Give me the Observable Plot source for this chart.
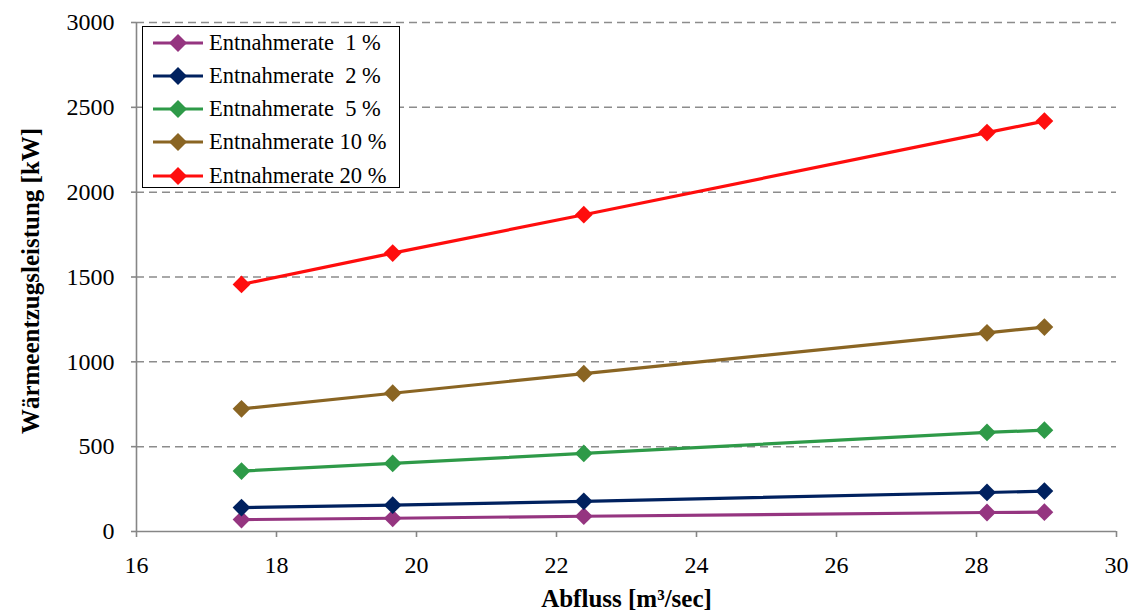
<!DOCTYPE html>
<html>
<head>
<meta charset="utf-8">
<script src="https://cdn.jsdelivr.net/npm/d3@7"></script>
<script src="https://cdn.jsdelivr.net/npm/@observablehq/plot@0.6"></script>
<style>
  html, body { margin: 0; padding: 0; background: #fff; }
  #wrap { position: relative; width: 1140px; height: 615px; }
  #wrap svg text { font-family: "Liberation Serif", "Times New Roman", serif; }
  #legend {
    position: absolute; left: 142px; top: 26px; width: 256px; height: 160px;
    border: 1.5px solid #000; background: #fff;
    font-family: "Liberation Serif", "Times New Roman", serif; font-size: 22.5px; color: #000;
  }
  .row { position: absolute; left: 0; height: 30px; display: flex; align-items: center; }
  .row span { white-space: pre; margin-left: 2px; }
</style>
</head>
<body>
<div id="wrap"></div>
<script>
// ---- data ----
const flow = [17.5, 19.66, 22.39, 28.15, 28.97];            // Abfluss [m³/sec]
const rate1  = [70, 78, 90, 112, 114];
const rate2  = [141, 155, 178, 230, 238];
const rate5  = [356, 401, 460, 584, 597];
const rate10 = [723, 815, 930, 1171, 1205];
const rate20 = [1456, 1641, 1867, 2351, 2419];
const seriesNames = ["Entnahmerate  1 %", "Entnahmerate  2 %", "Entnahmerate  5 %", "Entnahmerate 10 %", "Entnahmerate 20 %"];
const seriesColors = ["#953580", "#00215F", "#2E9A48", "#8A6523", "#FF0D0D"];
const xTicks = [16, 18, 20, 22, 24, 26, 28, 30];
const yTicks = [0, 500, 1000, 1500, 2000, 2500, 3000];
const xTitle = "Abfluss [m³/sec]";
const yTitle = "Wärmeentzugsleistung [kW]";

const allSeries = [rate1, rate2, rate5, rate10, rate20];
const rows = [];
allSeries.forEach((vals, i) => vals.forEach((v, j) => rows.push({series: seriesNames[i], x: flow[j], y: v})));

const axisColor = "#868686";
const seriesMarks = [];
seriesNames.forEach((name, i) => {
  const d = rows.filter(r => r.series === name);
  seriesMarks.push(Plot.line(d, {x: "x", y: "y", stroke: seriesColors[i], strokeWidth: 3.2}));
  seriesMarks.push(Plot.dot(d, {x: "x", y: "y", fill: seriesColors[i], symbol: "diamond2", r: 8, stroke: "none"}));
});

const chart = Plot.plot({
  width: 1140,
  height: 615,
  marginLeft: 136,
  marginRight: 24,
  marginTop: 22,
  marginBottom: 84,
  style: {fontFamily: "Liberation Serif, Times New Roman, serif", fontSize: "24px", color: "#000", background: "#fff", overflow: "visible"},
  x: {domain: [16, 30], label: null},
  y: {domain: [0, 3000], label: null},
  marks: [
    Plot.gridY(yTicks.filter(t => t > 0), {stroke: "#8c8c8c", strokeOpacity: 1, strokeWidth: 1.5, strokeDasharray: "8,5"}),
    Plot.ruleY([0], {stroke: axisColor, strokeWidth: 1.6}),
    Plot.ruleX([16], {stroke: axisColor, strokeWidth: 1.6}),
    Plot.axisX({ticks: xTicks, tickFormat: d => String(d), tickSize: 6, tickPadding: 18, stroke: axisColor, strokeWidth: 1.6, fill: "#000", fontSize: 24, label: null}),
    Plot.axisY({ticks: yTicks, tickFormat: d => String(d), tickSize: 5, tickPadding: 17, stroke: axisColor, strokeWidth: 1.6, fill: "#000", fontSize: 24, label: null}),
    ...seriesMarks,
    Plot.text([xTitle], {frameAnchor: "bottom", dy: 75, textAnchor: "middle", fontWeight: "bold", fontSize: 25, fill: "#000"}),
    Plot.text([yTitle], {frameAnchor: "left", dx: -106, dy: 4, textAnchor: "middle", rotate: -90, fontWeight: "bold", fontSize: 25, fill: "#000"})
  ]
});

const wrap = document.getElementById("wrap");
wrap.appendChild(chart);

// legend (inside the plot area, top-left)
const legend = document.createElement("div");
legend.id = "legend";
seriesNames.forEach((name, i) => {
  const row = document.createElement("div");
  row.className = "row";
  row.style.top = (0.5 + i * 33.3) + "px";
  const c = seriesColors[i];
  row.innerHTML = `<svg width="56" height="30" style="margin-left:8px"><line x1="2" x2="52" y1="15" y2="15" stroke="${c}" stroke-width="3.2"/><path d="M27,6L36,15L27,24L18,15Z" fill="${c}"/></svg><span>${name}</span>`;
  legend.appendChild(row);
});
wrap.appendChild(legend);
</script>
</body>
</html>
